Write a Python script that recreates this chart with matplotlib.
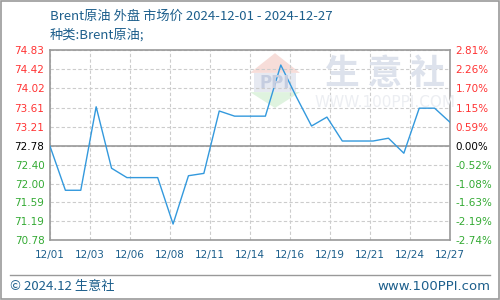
import numpy as np
import matplotlib
matplotlib.use('Agg')
import matplotlib.pyplot as plt
from matplotlib.patches import Polygon, Rectangle
from matplotlib.lines import Line2D

plt.rcParams['font.family'] = ['Noto Sans CJK SC', 'DejaVu Sans']

# ============================================================
# 数据
# ============================================================
dates = ['12/%02d' % d for d in range(1, 28)]
prices = [72.78, 71.84, 71.84, 73.62, 72.31, 72.11, 72.11, 72.11, 71.12,
          72.15, 72.20, 73.53, 73.42, 73.42, 73.42, 74.51, 73.84, 73.21,
          73.40, 72.89, 72.89, 72.89, 72.95, 72.63, 73.59, 73.59, 73.29]

base_price = 72.78
y_min, y_max = 70.78, 74.83
left_labels = ['70.78', '71.19', '71.59', '72.00', '72.40', '72.78',
               '73.21', '73.61', '74.02', '74.42', '74.83']
right_labels = ['-2.74%', '-2.19%', '-1.63%', '-1.08%', '-0.52%', '0.00%',
                '0.59%', '1.15%', '1.70%', '2.26%', '2.81%']
x_labels = ['12/01', '12/03', '12/06', '12/08', '12/11', '12/14',
            '12/16', '12/19', '12/21', '12/24', '12/27']

TITLE = 'Brent原油 外盘 市场价 2024-12-01 - 2024-12-27'
SUBTITLE = '种类:Brent原油;'

BLUE_TXT = '#1d5f8c'
RED = '#ff3333'
GREEN = '#33aa33'
LINE = '#3399dd'

# ============================================================
# 绘图
# ============================================================
fig = plt.figure(figsize=(5, 3), dpi=100)
fig.patch.set_facecolor('white')

# 外框
fig.add_artist(Rectangle((0.002, 0.003), 0.996, 0.994, transform=fig.transFigure,
                         fill=False, edgecolor='#999999', linewidth=1.2))

ax = fig.add_axes([0.1, 0.2, 0.8, 0.6333])
n = len(prices)
xs = np.arange(n)
ax.set_xlim(0, n - 1)
ax.set_ylim(y_min, y_max)

# 水印
wm = dict(transform=fig.transFigure, zorder=0)
fig.add_artist(Polygon([[0.50, 0.757], [0.55, 0.823], [0.60, 0.757]], closed=True,
                       facecolor='#f5d5d0', edgecolor='none', alpha=0.8, **wm))
fig.add_artist(Rectangle((0.508, 0.693), 0.084, 0.064, facecolor='#e4e7f0',
                         edgecolor='none', alpha=0.9, **wm))
fig.add_artist(Polygon([[0.50, 0.693], [0.55, 0.64], [0.60, 0.693]], closed=True,
                       facecolor='#d8f0d8', edgecolor='none', alpha=0.8, **wm))
fig.text(0.55, 0.725, 'PPI', fontsize=12, color='#c5cde0', ha='center', va='center',
         fontweight='bold', family='DejaVu Sans', zorder=0)
fig.text(0.77, 0.755, '生 意 社', fontsize=25, color='#dde2ec', ha='center',
         va='center', fontweight='bold', zorder=0)
fig.text(0.77, 0.657, 'WWW.100PPI.COM', fontsize=11, color='#eceef2', ha='center',
         va='center', family='DejaVu Sans', zorder=0)
ax.set_facecolor('none')

# 刻度位置：基准价上下各五等分
yt = np.concatenate([np.linspace(y_min, base_price, 6),
                     np.linspace(base_price, y_max, 6)[1:]])
xt = np.linspace(0, n - 1, len(x_labels))

ax.set_xticks(xt)
ax.set_xticklabels(x_labels, fontsize=7.5, color=BLUE_TXT, family='DejaVu Sans')
ax.set_yticks(yt)
ax.set_yticklabels(left_labels, fontsize=7.5, family='DejaVu Sans')
ax.tick_params(length=0, pad=4)
ax.tick_params(axis='x', pad=7)

ax.grid(True, color='#cccccc', linestyle=(0, (3, 2)), linewidth=0.8)
ax.axhline(base_price, color='#999999', linewidth=1.2, zorder=2)
for s in ax.spines.values():
    s.set_color('#999999')
    s.set_linewidth(1.2)

ax.plot(xs, prices, color=LINE, linewidth=1.0, zorder=3)

ax2 = ax.twinx()
ax2.set_ylim(y_min, y_max)
ax2.set_yticks(yt)
ax2.set_yticklabels(right_labels, fontsize=7.5, family='DejaVu Sans')
ax2.tick_params(length=0, pad=4)
for s in ax2.spines.values():
    s.set_visible(False)

for lbl_l, lbl_r, v in zip(ax.get_yticklabels(), ax2.get_yticklabels(), yt):
    if abs(v - base_price) < 1e-6:
        c = 'black'
    elif v > base_price:
        c = RED
    else:
        c = GREEN
    lbl_l.set_color(c)
    lbl_r.set_color(c)

# 标题
fig.text(0.1, 0.945, TITLE, fontsize=9.5, color=BLUE_TXT, ha='left', va='center')
fig.text(0.1, 0.882, SUBTITLE, fontsize=9.5, color=BLUE_TXT, ha='left', va='center')

# 页脚
fig.add_artist(Line2D([0.02, 0.98], [0.083, 0.083], transform=fig.transFigure,
                      color='#999999', linewidth=1.0))
fig.text(0.02, 0.045, '© 2024.12 生意社', fontsize=9.5, color=BLUE_TXT,
         ha='left', va='center')
fig.text(0.98, 0.045, 'www.100PPI.com', fontsize=9.5, color=BLUE_TXT,
         ha='right', va='center', family='DejaVu Sans')

fig.savefig('out.png', dpi=100)
